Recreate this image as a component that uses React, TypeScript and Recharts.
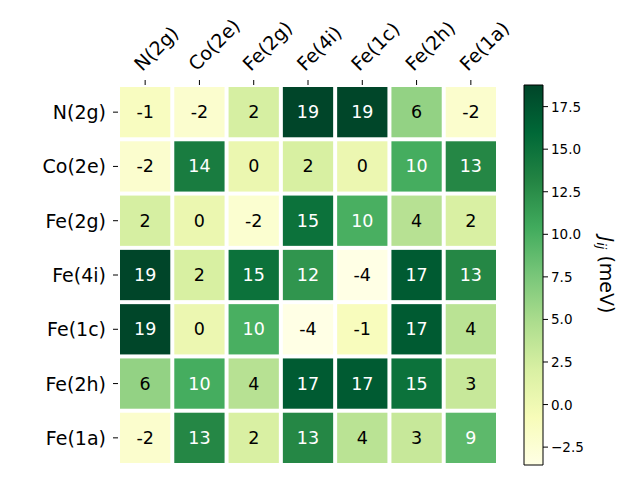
import React from 'react';
import {
  ScatterChart,
  Scatter,
  XAxis,
  YAxis,
  ComposedChart,
  Line,
  ReferenceArea,
} from 'recharts';

const SITES = ['N(2g)', 'Co(2e)', 'Fe(2g)', 'Fe(4i)', 'Fe(1c)', 'Fe(2h)', 'Fe(1a)'];

// J_ij in meV, one array per row site
const J_N2G = [-1.2, -2.1, 2.2, 18.77, 18.7, 6.2, -2.0];
const J_CO2E = [-2.1, 14.0, 0.4, 2.1, 0.3, 10.2, 13.0];
const J_FE2G = [2.2, 0.4, -2.2, 15.0, 10.0, 4.2, 2.0];
const J_FE4I = [18.77, 2.1, 15.0, 12.0, -3.55, 17.0, 13.0];
const J_FE1C = [18.7, 0.3, 10.0, -3.55, -1.0, 17.0, 4.0];
const J_FE2H = [6.2, 10.2, 4.2, 17.0, 17.0, 15.0, 3.2];
const J_FE1A = [-2.0, 13.0, 2.0, 13.0, 4.0, 3.2, 9.0];

const MATRIX = [J_N2G, J_CO2E, J_FE2G, J_FE4I, J_FE1C, J_FE2H, J_FE1A];

const CBAR_TICKS = [-2.5, 0, 2.5, 5, 7.5, 10, 12.5, 15, 17.5];

const YLGN = ['#ffffe5', '#f7fcb9', '#d9f0a3', '#addd8e', '#78c679', '#41ab5d', '#238443', '#006837', '#004529'];

const allVals = MATRIX.flat();
const VMIN = Math.min(...allVals);
const VMAX = Math.max(...allVals);

const cells = MATRIX.flatMap((row, i) => row.map((v, j) => ({ x: j, y: i, v })));

const hexToRgb = (h: string) => [1, 3, 5].map((k) => parseInt(h.slice(k, k + 2), 16));

function colorFor(v: number): number[] {
  const t = Math.max(0, Math.min(1, (v - VMIN) / (VMAX - VMIN))) * (YLGN.length - 1);
  const i = Math.min(Math.floor(t), YLGN.length - 2);
  const f = t - i;
  const a = hexToRgb(YLGN[i]);
  const b = hexToRgb(YLGN[i + 1]);
  return a.map((c, k) => Math.round(c + (b[k] - c) * f));
}

function luminance(rgb: number[]) {
  const lin = rgb.map((c) => {
    const s = c / 255;
    return s <= 0.03928 ? s / 12.92 : Math.pow((s + 0.055) / 1.055, 2.4);
  });
  return 0.2126 * lin[0] + 0.7152 * lin[1] + 0.0722 * lin[2];
}

const FONT = 'DejaVu Sans';
const CELL = 380 / 7;
const GAP = 4;

const HeatCell = (props: any) => {
  const { cx, cy, payload } = props;
  const rgb = colorFor(payload.v);
  const txt = luminance(rgb) > 0.408 ? '#000' : '#fff';
  return (
    <g>
      <rect
        x={cx - CELL / 2 + GAP / 2}
        y={cy - CELL / 2 + GAP / 2}
        width={CELL - GAP}
        height={CELL - GAP}
        fill={`rgb(${rgb.join(',')})`}
      />
      <text x={cx} y={cy} textAnchor="middle" dominantBaseline="central" fontSize={17.5} fontFamily={FONT} fill={txt}>
        {payload.v.toFixed(0)}
      </text>
    </g>
  );
};

const XTick = (props: any) => {
  const { x, payload } = props;
  const px = x - 3;
  const py = 72;
  return (
    <text x={px} y={py} transform={`rotate(-45, ${px}, ${py})`} textAnchor="start" fontSize={19} fontFamily={FONT} fill="#000">
      {SITES[payload.value]}
    </text>
  );
};

const YTick = (props: any) => {
  const { y, payload } = props;
  return (
    <text x={106} y={y} textAnchor="end" dominantBaseline="central" fontSize={19} fontFamily={FONT} fill="#000">
      {SITES[payload.value]}
    </text>
  );
};

const CbarTick = (props: any) => {
  const { x, y, payload } = props;
  const s = payload.value.toFixed(1).replace('-', '\u2212');
  return (
    <text x={x + 1} y={y} textAnchor="start" dominantBaseline="central" fontSize={13.5} fontFamily={FONT} fill="#000">
      {s}
    </text>
  );
};

const CbarLabel = () => (
  <text
    x={607}
    y={275}
    transform="rotate(90, 607, 275)"
    textAnchor="middle"
    dominantBaseline="central"
    fontSize={19}
    fontFamily={FONT}
    fill="#000"
  >
    <tspan fontStyle="italic">J</tspan>
    <tspan fontStyle="italic" fontSize={13} dy={5}>ij</tspan>
    <tspan dy={-5}> (meV)</tspan>
  </text>
);

const ticks7 = [0, 1, 2, 3, 4, 5, 6];

export default function App() {
  return (
    <div style={{ position: 'absolute', left: 0, top: 0, width: 640, height: 480, background: '#fff' }}>
      <div style={{ position: 'absolute', left: 0, top: 0 }}>
        <ScatterChart width={640} height={480} margin={{ top: 0, right: 142, bottom: 15, left: 0 }}>
          <XAxis
            dataKey="x"
            type="number"
            orientation="top"
            height={85}
            domain={[-0.5, 6.5]}
            ticks={ticks7}
            interval={0}
            axisLine={false}
            tickLine={{ stroke: '#000' }}
            tickSize={5}
            tick={<XTick />}
            allowDataOverflow
          />
          <YAxis
            dataKey="y"
            type="number"
            width={118}
            domain={[-0.5, 6.5]}
            ticks={ticks7}
            interval={0}
            reversed
            axisLine={false}
            tickLine={{ stroke: '#000' }}
            tickSize={5}
            tick={<YTick />}
            allowDataOverflow
          />
          <Scatter data={cells} shape={<HeatCell />} isAnimationActive={false} />
        </ScatterChart>
      </div>
      <div style={{ position: 'absolute', left: 0, top: 0 }}>
        <ComposedChart
          width={640}
          height={480}
          data={[{ x: 0, y: VMIN }, { x: 1, y: VMAX }]}
          margin={{ top: 85, right: 0, bottom: 15, left: 524 }}
        >
          <defs>
            <linearGradient id="ylgn" x1="0" y1="1" x2="0" y2="0">
              {YLGN.map((c, i) => (
                <stop key={c} offset={i / (YLGN.length - 1)} stopColor={c} />
              ))}
            </linearGradient>
          </defs>
          <XAxis dataKey="x" type="number" domain={[0, 1]} hide />
          <YAxis
            orientation="right"
            type="number"
            width={97}
            domain={[VMIN, VMAX]}
            ticks={CBAR_TICKS}
            interval={0}
            axisLine={false}
            tickLine={{ stroke: '#000' }}
            tickSize={5}
            tick={<CbarTick />}
            allowDataOverflow
          />
          <ReferenceArea x1={0} x2={1} y1={VMIN} y2={VMAX} fill="url(#ylgn)" fillOpacity={1} stroke="#000" strokeWidth={1} />
          <Line dataKey="y" stroke="none" dot={false} isAnimationActive={false} />
          <CbarLabel />
        </ComposedChart>
      </div>
    </div>
  );
}
